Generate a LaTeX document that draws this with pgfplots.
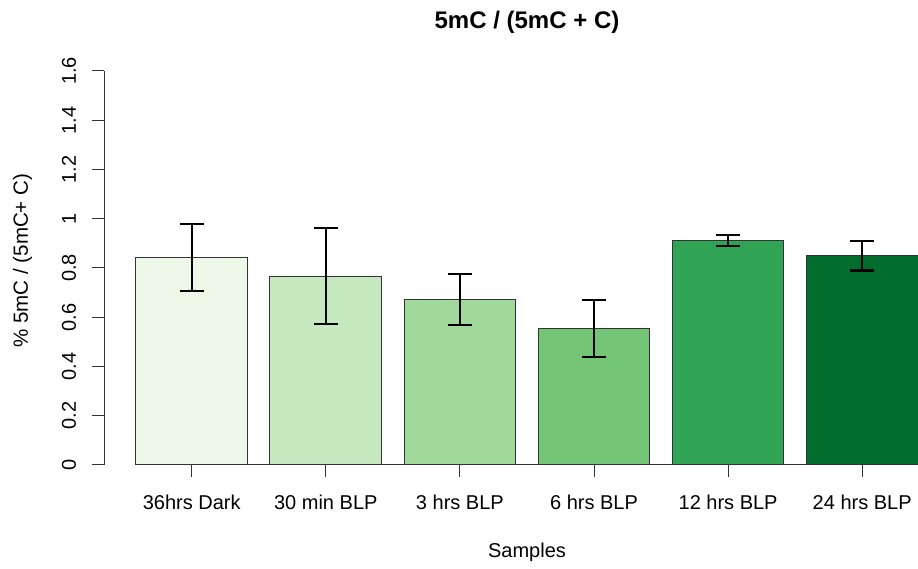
\documentclass[border=0pt]{standalone}
\usepackage{pgfplots}
\pgfplotsset{compat=1.18}
\usepackage{fontspec}
\setmainfont{Liberation Sans}
\definecolor{g1}{HTML}{EDF8E9}
\definecolor{g2}{HTML}{C7E9C0}
\definecolor{g3}{HTML}{A1D99B}
\definecolor{g4}{HTML}{74C476}
\definecolor{g5}{HTML}{31A354}
\definecolor{g6}{HTML}{006D2C}
\pgfplotsset{
  mybar/.style={fill=#1, draw=black!80, line width=0.75pt, bar shift=0pt,
    error bars/.cd, y dir=both, y explicit,
    error mark=|,
    error bar style={black, line width=1.6pt},
    error mark options={black, line width=1.6pt, mark size=9pt, draw=black}},
}
\begin{document}
\begin{tikzpicture}
\path[use as bounding box] (0pt,0pt) rectangle (688.5pt,426pt);
\begin{axis}[
  at={(78pt,77.25pt)}, anchor=south west, scale only axis,
  width=611.9pt, height=295.5pt,
  xmin=-0.654, xmax=5.43, ymin=0, ymax=1.6,
  axis x line*=bottom, axis y line*=left,
  x axis line style={draw=none},
  y axis line style={black!80, line width=0.75pt},
  xtick={0,1,2,3,4,5},
  xticklabels={36hrs Dark,30 min BLP,3 hrs BLP,6 hrs BLP,12 hrs BLP,24 hrs BLP},
  ytick={0,0.2,0.4,0.6,0.8,1,1.2,1.4,1.6},
  yticklabels={0,0.2,0.4,0.6,0.8,1,1.2,1.4,1.6},
  tick align=outside, major tick length=9pt,
  tick style={black!80, line width=0.75pt},
  ticklabel style={font=\fontsize{15}{18}\selectfont},
  yticklabel style={rotate=90, anchor=base, yshift=12pt},
  xticklabel style={anchor=base, yshift=-24pt},
  ybar, bar width=0.8333,
]
\addplot[mybar=g1] coordinates {(0,0.842) +- (0,0.135)};
\addplot[mybar=g2] coordinates {(1,0.767) +- (0,0.194)};
\addplot[mybar=g3] coordinates {(2,0.673) +- (0,0.104)};
\addplot[mybar=g4] coordinates {(3,0.554) +- (0,0.115)};
\addplot[mybar=g5] coordinates {(4,0.911) +- (0,0.0225)};
\addplot[mybar=g6] coordinates {(5,0.849) +- (0,0.059)};
\draw[black!80, line width=0.75pt] (axis cs:-0.4167,0) -- (axis cs:5.4167,0);
\end{axis}
\node[font=\bfseries\fontsize{18}{22}\selectfont, anchor=base] at (395.25pt,404.6pt) {5mC / (5mC + C)};
\node[font=\fontsize{15}{18}\selectfont, anchor=base] at (395.25pt,8.25pt) {Samples};
\node[font=\fontsize{15.4}{18}\selectfont, rotate=90, anchor=base] at (21pt,230.5pt) {\% 5mC / (5mC+ C)};
\end{tikzpicture}
\end{document}
